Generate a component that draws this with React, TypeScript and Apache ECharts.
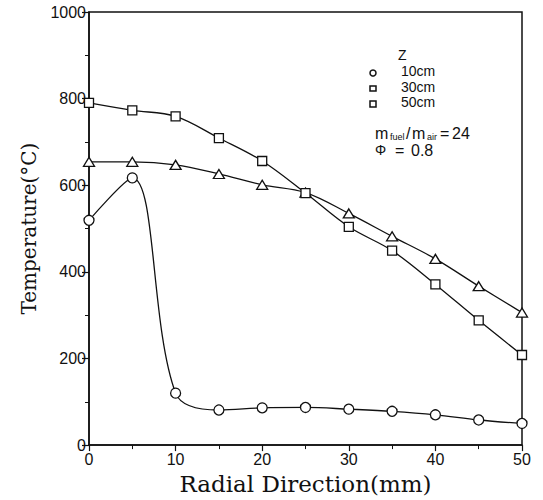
import React, { useEffect, useRef } from "react";
import * as echarts from "echarts";

const radial = [0, 5, 10, 15, 20, 25, 30, 35, 40, 45, 50];
const temp10cm = [519, 617, 120, 81, 86, 87, 83, 78, 70, 58, 50];
const tempTriangle = [654, 654, 647, 626, 601, 583, 535, 482, 430, 367, 306];
const tempSquare = [790, 773, 759, 709, 656, 582, 504, 449, 371, 288, 208];
const legendLabels = ["10cm", "30cm", "50cm"];

const INK = "#111";

export default function App() {
  const ref = useRef<HTMLDivElement>(null);
  useEffect(() => {
    if (!ref.current) return;
    const chart = echarts.init(ref.current, null, { renderer: "svg" });
    const pts = (ys: number[]) => radial.map((x, i) => [x, ys[i]]);
    const common = {
      type: "line",
      smooth: 0.35,
      lineStyle: { color: INK, width: 1.3 },
      itemStyle: { color: "#fff", borderColor: INK, borderWidth: 1.3 },
      showAllSymbol: true,
      z: 3,
    };
    const txt = { fill: INK, fontFamily: "Liberation Sans", fontSize: 14 };
    const big = { ...txt, fontSize: 16, lineHeight: 16, verticalAlign: "middle" };
    const sub = { ...txt, fontSize: 9, lineHeight: 9, verticalAlign: "middle" };
    const MY = 133;
    const PY = 150;
    chart.setOption({
      animation: false,
      backgroundColor: "#fff",
      grid: {
        left: 89,
        right: 21,
        top: 12,
        bottom: 54,
        show: true,
        borderColor: INK,
        borderWidth: 1.5,
      },
      xAxis: {
        type: "value",
        min: 0,
        max: 50,
        interval: 10,
        name: "Radial Direction(mm)",
        nameLocation: "middle",
        nameGap: 25,
        nameTextStyle: { fontFamily: "DejaVu Serif", fontSize: 23, color: INK },
        axisLine: { lineStyle: { color: INK, width: 1.5 } },
        axisTick: { length: 6, lineStyle: { color: INK, width: 1.2 } },
        minorTick: { show: true, splitNumber: 2, length: 4, lineStyle: { color: INK } },
        axisLabel: { fontFamily: "Liberation Sans", fontSize: 16, color: INK, margin: 6 },
        splitLine: { show: false },
      },
      yAxis: {
        type: "value",
        min: 0,
        max: 1000,
        interval: 200,
        name: "Temperature(°C)",
        nameLocation: "middle",
        nameGap: 50,
        nameTextStyle: { fontFamily: "DejaVu Serif", fontSize: 20, color: INK },
        axisLine: { show: true, lineStyle: { color: INK, width: 1.5 } },
        axisTick: { show: true, length: 7, lineStyle: { color: INK, width: 1.2 } },
        minorTick: { show: true, splitNumber: 2, length: 4, lineStyle: { color: INK } },
        axisLabel: {
          fontFamily: "Liberation Sans",
          fontSize: 16,
          color: INK,
          margin: 3,
          formatter: (v: number) => String(v),
        },
        splitLine: { show: false },
      },
      series: [
        { ...common, name: legendLabels[0], data: pts(temp10cm), symbol: "circle", symbolSize: 10 },
        { ...common, name: legendLabels[1], data: pts(tempTriangle), symbol: "triangle", symbolSize: [11, 9] },
        { ...common, name: legendLabels[2], data: pts(tempSquare), symbol: "rect", symbolSize: 9 },
      ],
      graphic: [
        { type: "text", x: 398, y: 48, style: { ...txt, text: "Z" } },
        { type: "circle", shape: { cx: 373, cy: 73, r: 3 }, style: { fill: "none", stroke: INK, lineWidth: 1.5 } },
        { type: "rect", shape: { x: 370, y: 86, width: 6, height: 5 }, style: { fill: "none", stroke: INK, lineWidth: 1.5 } },
        { type: "rect", shape: { x: 370, y: 101, width: 6, height: 6 }, style: { fill: "none", stroke: INK, lineWidth: 1.5 } },
        { type: "text", x: 401, y: 64, style: { ...txt, text: legendLabels[0] } },
        { type: "text", x: 401, y: 80, style: { ...txt, text: legendLabels[1] } },
        { type: "text", x: 401, y: 95, style: { ...txt, text: legendLabels[2] } },
        { type: "text", x: 375, y: MY, style: { ...big, text: "m" } },
        { type: "text", x: 390, y: MY + 4, style: { ...sub, text: "fuel" } },
        { type: "text", x: 406, y: MY, style: { ...big, text: "/" } },
        { type: "text", x: 412, y: MY, style: { ...big, text: "m" } },
        { type: "text", x: 427, y: MY + 4, style: { ...sub, text: "air" } },
        { type: "text", x: 440, y: MY, style: { ...big, text: "=" } },
        { type: "text", x: 452, y: MY, style: { ...big, text: "24" } },
        { type: "text", x: 375, y: PY, style: { ...big, fontSize: 14, text: "Φ" } },
        { type: "text", x: 395, y: PY, style: { ...big, text: "=" } },
        { type: "text", x: 411, y: PY, style: { ...big, text: "0.8" } },
      ],
    });
    return () => chart.dispose();
  }, []);
  return (
    <div
      ref={ref}
      style={{ position: "absolute", left: 0, top: 0, width: 543, height: 500, background: "#fff" }}
    />
  );
}
